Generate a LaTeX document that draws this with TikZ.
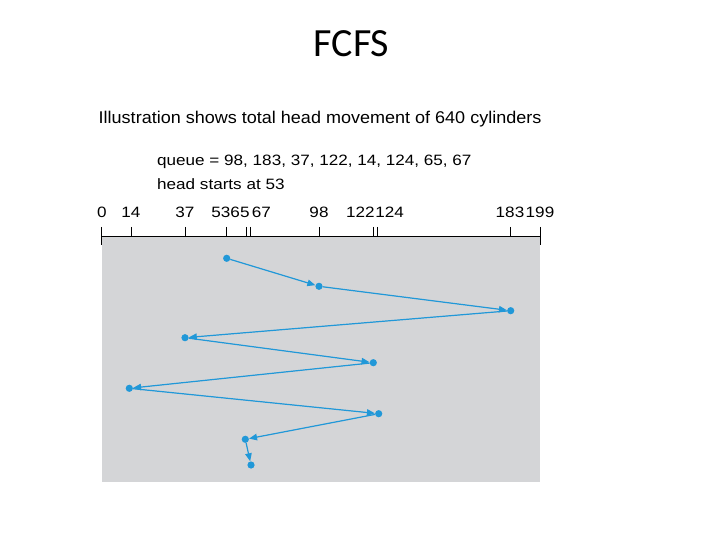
\documentclass[tikz,border=0pt]{standalone}
\usepackage{fontspec}
\setmainfont{Liberation Sans}
\newfontfamily\titlefont{Carlito}
\newfontfamily\capfont[FakeStretch=1.06]{Liberation Sans}
\newfontfamily\chartfont[FakeStretch=1.14]{Liberation Sans}
\usetikzlibrary{arrows.meta}
\definecolor{headblue}{RGB}{33,152,216}
\definecolor{platter}{RGB}{212,213,215}

\begin{document}
\begin{tikzpicture}[x=1pt,y=-1pt]
\tikzstyle{stop}=[circle,fill=headblue,inner sep=0pt,minimum size=7.2pt]
\tikzstyle{move}=[draw=headblue,line width=1.2pt,-{Triangle[length=8pt,width=6.5pt]},fill=headblue]
\tikzstyle{axtick}=[line width=1pt]
\tikzstyle{cyl}=[font=\chartfont\fontsize{15}{15}\selectfont,anchor=base,inner sep=0pt]
\useasboundingbox (0,0) rectangle (720,540);
\node[anchor=base,inner sep=0pt] (title) at (351.5,57) {\titlefont\fontsize{40}{40}\selectfont FCFS};
\node[anchor=base west,inner sep=0pt] (caption) at (98.5,124) {\capfont\fontsize{17}{17}\selectfont Illustration shows total head movement of 640 cylinders};
\fill[platter] (101.7,236) rectangle (540,482);
\node[cyl,anchor=base west] (queue) at (157,165.7) {queue = 98, 183, 37, 122, 14, 124, 65, 67};
\node[cyl,anchor=base west] (headline) at (157,189.3) {head starts at 53};
\draw[axtick] (101.7,236) -- (540,236);
\foreach \x in {131,185,226.7,246,250,319,373.7,377,510.7}
  \draw[axtick] (\x,227) -- (\x,236);
\foreach \x in {101.7,540}
  \draw[axtick] (\x,227) -- (\x,244.5);
\foreach \x/\v in {102/0,131/14,185/37,221/53,240/65,261.3/67,319/98,360.3/122,389.7/124,510/183,540/199}
  \node[cyl] (l\v) at (\x,217.3) {\v};
\foreach \x/\y/\v in {226.7/258.3/53,319/286.3/98,510.7/310.7/183,185/337.7/37,373.3/362.7/122,129.3/388.3/14,378.7/413.7/124,245.3/439.3/65,251/465/67}
  \node[stop] (c\v) at (\x,\y) {};
\foreach \a/\b in {53/98,98/183,183/37,37/122,122/14,14/124,124/65,65/67}
  \draw[move] (c\a) -- (c\b);
\end{tikzpicture}
\end{document}
